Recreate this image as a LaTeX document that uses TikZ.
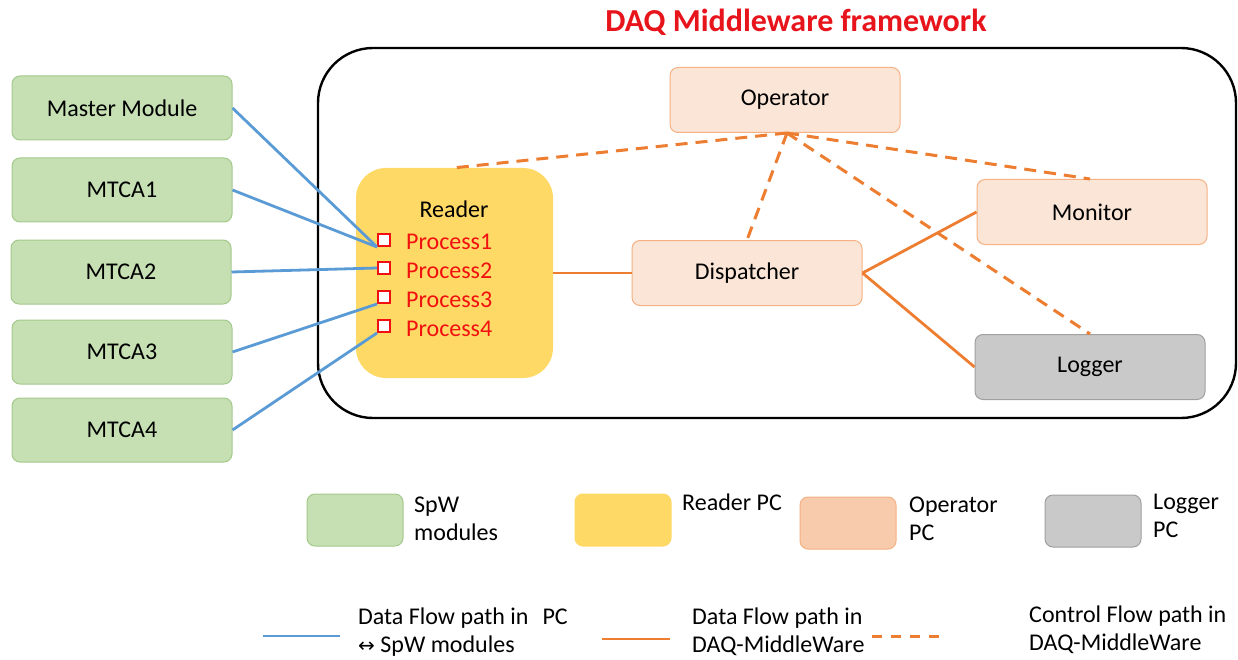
\documentclass[tikz,border=0pt]{standalone}
\usepackage{fontspec}
\setmainfont{Carlito}
\newfontfamily\symfont{DejaVu Sans}
\definecolor{gfill}{HTML}{C6E0B4}
\definecolor{gline}{HTML}{A3C98A}
\definecolor{yfill}{HTML}{FFD966}
\definecolor{ofill}{HTML}{FBE5D6}
\definecolor{oline}{HTML}{F4B183}
\definecolor{olegfill}{HTML}{F8CBAD}
\definecolor{grfill}{HTML}{C9C9C9}
\definecolor{grline}{HTML}{A0A0A0}
\definecolor{blueln}{HTML}{5B9BD5}
\definecolor{orangeln}{HTML}{ED7D31}
\definecolor{titlered}{HTML}{E8141C}
\definecolor{procred}{HTML}{F01010}
\begin{document}
\begin{tikzpicture}[x=1pt,y=-1pt,
  every node/.style={font=\fontsize{24}{28}\selectfont},
  gbox/.style={draw=gline,fill=gfill,line width=1pt,rounded corners=8pt,minimum width=220pt,minimum height=64pt,inner sep=0pt},
  obox/.style={draw=oline,fill=ofill,line width=1pt,rounded corners=8pt,minimum width=230pt,minimum height=65pt,inner sep=0pt},
  lbox/.style={draw=grline,fill=grfill,line width=1pt,rounded corners=8pt,minimum width=230pt,minimum height=65pt,inner sep=0pt},
  legbox/.style={rounded corners=8pt,line width=1pt,minimum width=96pt,minimum height=52pt,inner sep=0pt},
  procsq/.style={draw=procred,fill=white,line width=2pt,minimum size=12pt,inner sep=0pt},
  proctxt/.style={text=procred,anchor=west,inner sep=0pt},
  bline/.style={draw=blueln,line width=2.8pt},
  oline2/.style={draw=orangeln,line width=2.8pt},
  odash/.style={draw=orangeln,line width=3pt,dash pattern=on 12pt off 8pt},
  legtxt/.style={anchor=west,align=left,inner sep=0pt,font=\fontsize{24}{28}\selectfont}]
\useasboundingbox (0,0) rectangle (1238,660);
% title
\node[text=titlered,font=\fontsize{32}{36}\selectfont\bfseries] (title) at (796,22) {DAQ Middleware framework};
% framework frame
\node[draw=black,line width=2.4pt,rounded corners=55pt,minimum width=918pt,minimum height=370pt,inner sep=0pt] (frame) at (777,233) {};
% spw modules
\node[gbox] (mm) at (122,108) {Master Module};
\node[gbox] (m1) at (122,190) {MTCA1};
\node[gbox] (m2) at (121,272) {MTCA2};
\node[gbox] (m3) at (122,352) {MTCA3};
\node[gbox] (m4) at (122,430) {MTCA4};
% reader
\node[fill=yfill,rounded corners=30pt,minimum width=197pt,minimum height=210pt,inner sep=0pt] (rd) at (454.5,273) {};
\node (rdt) at (454,209) {Reader};
\node[procsq] (p1) at (384,240) {};
\node[procsq] (p2) at (384,268) {};
\node[procsq] (p3) at (384,297) {};
\node[procsq] (p4) at (384,326) {};
\node[proctxt] (t1) at (406,242) {Process1};
\node[proctxt] (t2) at (406,271) {Process2};
\node[proctxt] (t3) at (406,300) {Process3};
\node[proctxt] (t4) at (406,329) {Process4};
% middleware components
\node[obox] (op) at (785,100) {Operator};
\node[obox] (dp) at (747,273) {Dispatcher};
\node[obox] (mo) at (1092,212) {Monitor};
\node[lbox] (lg) at (1090,367) {Logger};
% blue data lines
\draw[bline] (mm.east) -- (p1.south west);
\draw[bline] (m1.east) -- (p1.south west);
\draw[bline] (m2.east) -- (p2.west);
\draw[bline] (m3.east) -- (p3.south west);
\draw[bline] (m4.east) -- (p4.south west);
% orange data lines
\draw[oline2] (rd.east) -- (dp.west);
\draw[oline2] (dp.east) -- (mo.west);
\draw[oline2] (dp.east) -- (lg.west);
% control lines
\coordinate (opb) at (787,133);
\draw[odash] (opb) -- (rd.north);
\draw[odash] (opb) -- (dp.north);
\draw[odash] (opb) -- ([xshift=-2pt]mo.north);
\draw[odash] (opb) -- (lg.north);
% legend boxes
\node[legbox,draw=gline,fill=gfill] (lgg) at (355,520) {};
\node[legtxt] (lggt) at (414,519) {SpW\\modules};
\node[legbox,draw=yfill,fill=yfill] (lgy) at (623,520) {};
\node[legtxt] (lgyt) at (682,502) {Reader PC};
\node[legbox,draw=oline,fill=olegfill] (lgo) at (848,523) {};
\node[legtxt] (lgot) at (909,519) {Operator\\PC};
\node[legbox,draw=grline,fill=grfill] (lgr) at (1093,521) {};
\node[legtxt] (lgrt) at (1153,516) {Logger\\PC};
% legend lines
\coordinate (b1) at (263,636); \coordinate (b2) at (340,636);
\draw[bline] (b1) -- (b2);
\node[legtxt] (lbt) at (358,632) {Data Flow path in\hspace{14pt}PC\\{\symfont\fontsize{20}{24}\selectfont ↔} SpW modules};
\coordinate (o1) at (602,639); \coordinate (o2) at (670,639);
\draw[oline2] (o1) -- (o2);
\node[legtxt] (lot) at (692,632) {Data Flow path in\\DAQ-MiddleWare};
\coordinate (d1) at (872,636); \coordinate (d2) at (940,636);
\draw[odash,dash pattern=on 10pt off 9pt] (d1) -- (d2);
\node[legtxt] (ldt) at (1029,630) {Control Flow path in\\DAQ-MiddleWare};
\end{tikzpicture}
\end{document}
